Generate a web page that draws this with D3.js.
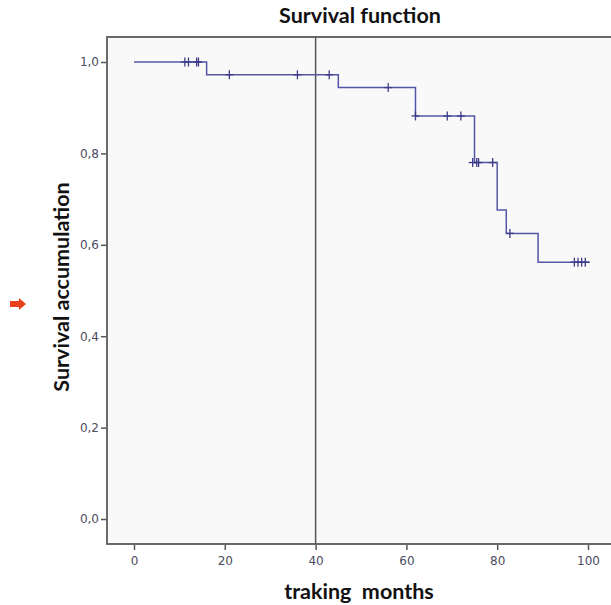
<!DOCTYPE html>
<html><head><meta charset="utf-8">
<script src="https://cdn.jsdelivr.net/npm/d3@7"></script>
<style>body{margin:0;background:#fff}svg{display:block}</style>
</head><body><svg id="c" width="611" height="605"></svg>
<script>
// Kaplan-Meier step points (time in months, cumulative survival)
const stepTimes  = [0, 16, 45, 62, 75, 80, 82, 89, 100.4];
const stepValues = [1.0, 0.972, 0.944, 0.882, 0.780, 0.676, 0.625, 0.562, 0.562];
// Censored observations
const censorTimes  = [11.2, 12.0, 13.8, 14.2, 21, 36, 43, 56, 62, 69, 72, 74.6, 75.5, 75.9, 79, 82.8, 97.0, 97.8, 98.6, 99.4];
const censorValues = [1.0, 1.0, 1.0, 1.0, 0.972, 0.972, 0.972, 0.944, 0.882, 0.882, 0.882, 0.780, 0.780, 0.780, 0.780, 0.625, 0.562, 0.562, 0.562, 0.562];
const xTicks = [0, 20, 40, 60, 80, 100];
const yTicks = [0, 0.2, 0.4, 0.6, 0.8, 1.0];
const refLine = 40;

const svg = d3.select("#c");
const frame = {left: 107, top: 37, right: 613, bottom: 544};
const x = d3.scaleLinear().domain([0, 100]).range([134, 588]);
const y = d3.scaleLinear().domain([0, 1]).range([519, 62]);

// plot background
svg.append("rect").attr("x", frame.left).attr("y", frame.top)
  .attr("width", frame.right - frame.left).attr("height", frame.bottom - frame.top)
  .attr("fill", "#f9f9f9");

// axes
const fmt = d => d3.format(".1f")(d).replace(".", ",");
const yAxis = svg.append("g").attr("transform", `translate(${frame.left},0)`)
  .call(d3.axisLeft(y).tickValues(yTicks).tickFormat(fmt).tickSize(6).tickPadding(2));
const xAxis = svg.append("g").attr("transform", `translate(0,${frame.bottom})`)
  .call(d3.axisBottom(x).tickValues(xTicks).tickSize(6).tickPadding(6));
[yAxis, xAxis].forEach(g => {
  g.select(".domain").remove();
  g.selectAll(".tick line").attr("stroke", "#555").attr("stroke-width", 1.5);
  g.selectAll(".tick text").attr("fill", "#4b4b63").style("font-family", "DejaVu Sans").style("font-size", "12px");
});

// frame lines (top, left, bottom)
svg.append("path")
  .attr("d", `M${frame.right},${frame.top}H${frame.left}V${frame.bottom}H${frame.right}`)
  .attr("fill", "none").attr("stroke", "#6a6a6a").attr("stroke-width", 2);

// reference line at 40 months
svg.append("line").attr("x1", x(refLine)).attr("x2", x(refLine))
  .attr("y1", frame.top).attr("y2", frame.bottom)
  .attr("stroke", "#555").attr("stroke-width", 1.5);

// survival curve
const pts = stepTimes.map((t, i) => [t, stepValues[i]]);
svg.append("path").datum(pts)
  .attr("d", d3.line().x(d => x(d[0])).y(d => y(d[1])).curve(d3.curveStepAfter))
  .attr("fill", "none").attr("stroke", "#5656a6").attr("stroke-width", 1.5);

// censor marks
const cz = censorTimes.map((t, i) => [t, censorValues[i]]);
svg.append("g").selectAll("line").data(cz).join("line")
  .attr("x1", d => x(d[0])).attr("x2", d => x(d[0]))
  .attr("y1", d => y(d[1]) - 4.5).attr("y2", d => y(d[1]) + 4.5)
  .attr("stroke", "#3c3c88").attr("stroke-width", 1.3);
svg.append("g").selectAll("line").data(cz).join("line")
  .attr("x1", d => x(d[0]) - 4).attr("x2", d => x(d[0]) + 4)
  .attr("y1", d => y(d[1])).attr("y2", d => y(d[1]))
  .attr("stroke", "#3c3c88").attr("stroke-width", 1.3);

// titles
const titleFont = g => g.style("font-family", "Lato").style("font-weight", "bold")
  .style("font-size", "21.5px").attr("fill", "#111");
svg.append("text").attr("x", 360).attr("y", 23).attr("text-anchor", "middle")
  .call(titleFont).text("Survival function");
svg.append("text").attr("x", 359).attr("y", 599).attr("text-anchor", "middle")
  .attr("xml:space", "preserve").call(titleFont).text("traking  months");
svg.append("text").attr("transform", "translate(68.5,287) rotate(-90)").attr("text-anchor", "middle")
  .call(titleFont).text("Survival accumulation");

// red arrow marker
svg.append("path")
  .attr("d", "M10,301H19V298L26,304L19,310V307H10Z")
  .attr("fill", "#e8401c");
</script></body></html>
